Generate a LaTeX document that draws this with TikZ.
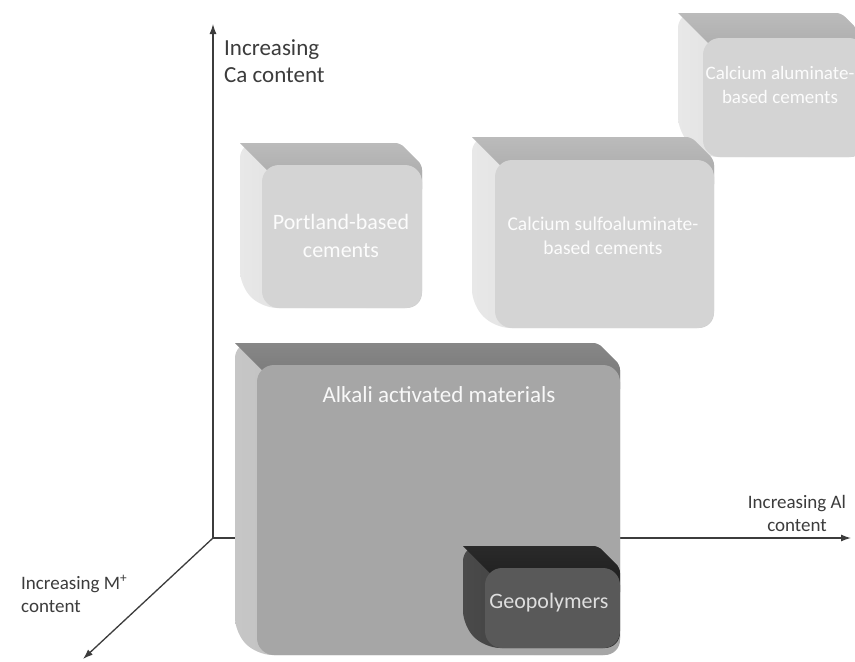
\documentclass[tikz,border=0pt]{standalone}
\usepackage{fontspec}
\setmainfont{Carlito}
\usetikzlibrary{arrows.meta}

\definecolor{axisgray}{HTML}{3C3C3C}
\definecolor{lightfront}{HTML}{D4D4D4}
\definecolor{lighttopA}{HTML}{BBBBBB}
\definecolor{lighttopB}{HTML}{A8A8A8}
\definecolor{lightsideA}{HTML}{E8E8E8}
\definecolor{lightsideB}{HTML}{D0D0D0}
\definecolor{midfront}{HTML}{A6A6A6}
\definecolor{midtopA}{HTML}{878787}
\definecolor{midtopB}{HTML}{767676}
\definecolor{midsideA}{HTML}{C6C6C6}
\definecolor{midsideB}{HTML}{A9A9A9}
\definecolor{darkfront}{HTML}{595959}
\definecolor{darktopA}{HTML}{2A2A2A}
\definecolor{darktopB}{HTML}{1C1C1C}
\definecolor{darksideA}{HTML}{4A4A4A}
\definecolor{darksideB}{HTML}{333333}

\tikzset{
  axisline/.style={draw=axisgray, line width=1.3pt, -{Latex[length=10pt,width=7pt]}},
  axislabel/.style={text=axisgray, inner sep=0pt, font=\fontsize{19}{23}\selectfont},
  boxlabel/.style={inner sep=0pt, align=center},
  light front/.style={fill=lightfront},
  light top/.style={top color=lighttopA, bottom color=lighttopB},
  light side/.style={left color=lightsideA, right color=lightsideB},
  mid front/.style={fill=midfront},
  mid top/.style={top color=midtopA, bottom color=midtopB},
  mid side/.style={left color=midsideA, right color=midsideB},
  dark front/.style={fill=darkfront},
  dark top/.style={top color=darktopA, bottom color=darktopB},
  dark side/.style={left color=darksideA, right color=darksideB},
}

% Bevelled slab: front face (#1,#2)-(#3,#4), depth #5, colour family #6
\newcommand\slabbox[6]{%
  \shade[#6 side, rounded corners=15pt]
    (#1-#5,#2-#5) [rounded corners=5pt] -- (#3-#5,#2-#5) -- (#3,#2)
    [rounded corners=15pt] -- (#3,#4) -- (#1,#4) -- (#1-#5,#4-#5) -- cycle;
  \shade[#6 top, rounded corners=15pt]
    (#1-#5,#2-#5) [rounded corners=5pt] -- (#3-#5,#2-#5) -- (#3,#2)
    [sharp corners] -- (#3,#2+24) -- (#1+24,#2+24) -- cycle;
  \fill[#6 front, rounded corners=17pt] (#1,#2) rectangle (#3,#4);
}

\begin{document}
\begin{tikzpicture}[x=1pt, y=-1pt]
  \clip (0,0) rectangle (855,662);
  \fill[white] (0,0) rectangle (855,662);

  % axes
  \coordinate (O) at (213,538);
  \coordinate (caEnd) at (213,24);
  \coordinate (alEnd) at (851,538);
  \coordinate (mEnd) at (83,659);
  \draw[axisline] (O) -- (caEnd);
  \draw[axisline] (O) -- (alEnd);
  \draw[axisline] (O) -- (mEnd);

  \node[axislabel, anchor=west, align=left, font=\fontsize{23}{27}\selectfont] (caLabel)
    at (224,61.5) {Increasing\\Ca content};
  \node[axislabel, align=center] (alLabel) at (797,513) {Increasing Al\\content};
  \node[axislabel, anchor=west, align=left] (mLabel) at (21,594)
    {Increasing M\textsuperscript{+}\\content};

  % cement families
  \slabbox{703}{38}{866}{157}{25}{light}
  \node[boxlabel, text=white!92!lightfront, font=\fontsize{19}{24}\selectfont] (ca)
    at (780,85) {Calcium aluminate-\\based cements};

  \slabbox{262}{165}{422}{308}{22}{light}
  \node[boxlabel, text=white!92!lightfront, font=\fontsize{22}{28}\selectfont] (portland)
    at (341,236) {Portland-based\\cements};

  \slabbox{495}{160}{714}{328}{23}{light}
  \node[boxlabel, text=white!92!lightfront, font=\fontsize{19.5}{23.5}\selectfont] (csa)
    at (603,236) {Calcium sulfoaluminate-\\based cements};

  \slabbox{257}{365}{620}{655}{22}{mid}
  \node[boxlabel, text=white!92!midfront, font=\fontsize{23}{28}\selectfont] (aam)
    at (439,395) {Alkali activated materials};

  \slabbox{485}{568}{620}{648}{22}{dark}
  \node[boxlabel, text=white!80!darkfront, font=\fontsize{22}{26}\selectfont] (geo)
    at (549,603) {Geopolymers};
\end{tikzpicture}
\end{document}
